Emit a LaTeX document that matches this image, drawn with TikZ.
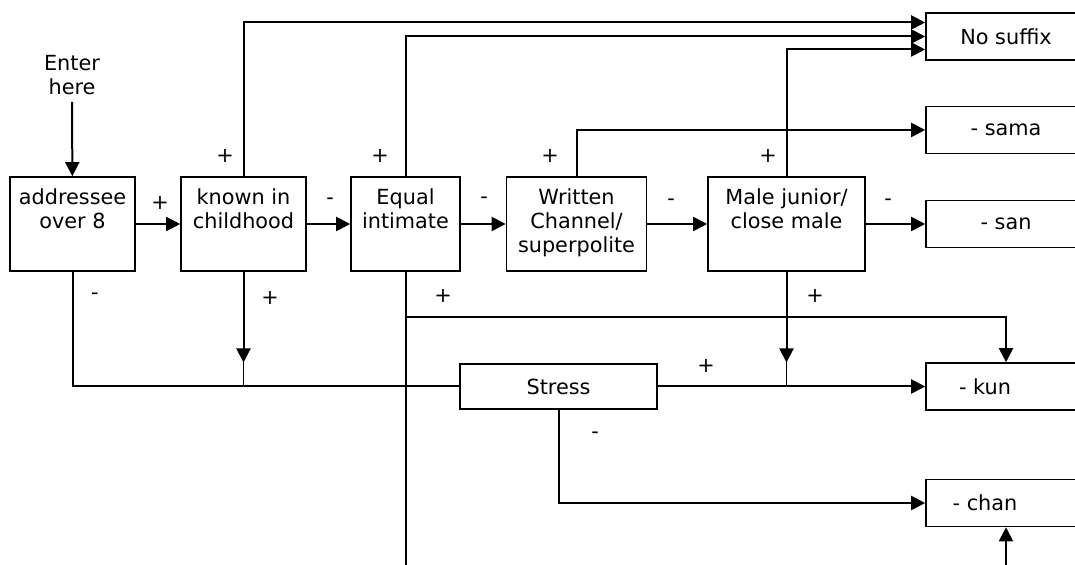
\documentclass[tikz,border=0pt]{standalone}
\usepackage{fontspec}
\setmainfont{DejaVu Sans}
\usetikzlibrary{positioning,arrows.meta}

\begin{document}
\begin{tikzpicture}[x=0.5pt, y=-0.5pt, font=\fontsize{10.4pt}{12pt}\selectfont,
    stepbox/.style={draw, line width=0.8pt, minimum height=47pt, inner sep=0pt},
    boxtext/.style={align=center, anchor=north, inner sep=0pt, yshift=-6pt},
    suffix/.style={draw, line width=0.8pt, minimum width=80pt, minimum height=23.5pt, inner sep=0pt},
    arr/.style={-{Triangle[length=7pt,width=7pt]}, line width=1pt},
    wire/.style={line width=1pt},
    sign/.style={inner sep=0pt}]
    \useasboundingbox (0,0) rectangle (1075,565);

    % decision boxes
    \node (enter) [align=center] at (72,75) {Enter\\here};
    \node[stepbox, minimum width=62.5pt, label={[boxtext]north:addressee\\over 8}] (addr) at (72.5,224) {};
    \node[stepbox, minimum width=62.5pt, label={[boxtext]north:known in\\childhood}] (known) at (243.5,224) {};
    \node[stepbox, minimum width=54.5pt, label={[boxtext]north:Equal\\intimate}] (equal) at (405.5,224) {};
    \node[stepbox, minimum width=70pt, label={[boxtext]north:Written\\Channel/\\superpolite}] (written) at (576.5,224) {};
    \node[stepbox, minimum width=78.5pt, label={[boxtext]north:Male junior/\\close male}] (male) at (786.5,224) {};
    \node[draw, line width=0.8pt, minimum width=98.5pt, minimum height=22.5pt] (stress) at (558.5,386.5) {Stress};

    % suffixes
    \node[suffix] (nosuf) at (1006,36.5) {No suffix};
    \node[suffix] (sama) at (1006,130) {- sama};
    \node[suffix] (san) at (1006,224) {- san};
    \node[suffix, label={[xshift=-10.5pt]center:- kun}] (kun) at (1006,386.5) {};
    \node[suffix, label={[xshift=-10.5pt]center:- chan}] (chan) at (1006,503) {};

    \coordinate (kdot) at (known.south |- stress.west);
    \coordinate (mdot) at (male.south |- stress.east);
    \coordinate (ebranch) at (equal.south |- 0,317);
    \coordinate (eend) at (equal.south |- 0,590);
    \coordinate (cbot) at (chan.south |- 0,590);

    \draw[arr] (enter) -- (addr);
    \draw[arr] (addr) -- (known);
    \draw[arr] (known) -- (equal);
    \draw[arr] (equal) -- (written);
    \draw[arr] (written) -- (male);
    \draw[arr] (male) -- (san);

    \draw[arr] (known.north) |- ([yshift=7pt]nosuf.west);
    \draw[arr] (equal.north) |- (nosuf.west);
    \draw[arr] (male.north) |- ([yshift=-6.5pt]nosuf.west);
    \draw[arr] (written.north) |- (sama.west);

    \draw[wire] (addr.south) |- (stress.west);
    \draw[arr] (known.south) -- ([yshift=12pt]kdot);
    \draw ([yshift=12pt]kdot) -- (kdot);
    \draw[wire] (equal.south) -- (eend);
    \draw[arr] (ebranch) -| (kun.north);
    \draw[arr] (male.south) -- ([yshift=12pt]mdot);
    \draw ([yshift=12pt]mdot) -- (mdot);
    \draw[arr] (stress.east) -- (kun.west);
    \draw[arr] (stress.south) |- (chan.west);
    \draw[arr] (cbot) -- (chan.south);

    % branch signs
    \node[sign] (s1) at (160,203) {+};
    \node[sign] (s2) at (330,201) {-};
    \node[sign] (s3) at (484,200) {-};
    \node[sign] (s4) at (671,202) {-};
    \node[sign] (s5) at (888,202) {-};
    \node[sign] (s6) at (225,156) {+};
    \node[sign] (s7) at (380,156) {+};
    \node[sign] (s8) at (550,156) {+};
    \node[sign] (s9) at (768,156) {+};
    \node[sign] (s10) at (95,296) {-};
    \node[sign] (s11) at (270,298) {+};
    \node[sign] (s12) at (443,296) {+};
    \node[sign] (s13) at (815,296) {+};
    \node[sign] (s14) at (706,366) {+};
    \node[sign] (s15) at (595,435) {-};
\end{tikzpicture}
\end{document}
